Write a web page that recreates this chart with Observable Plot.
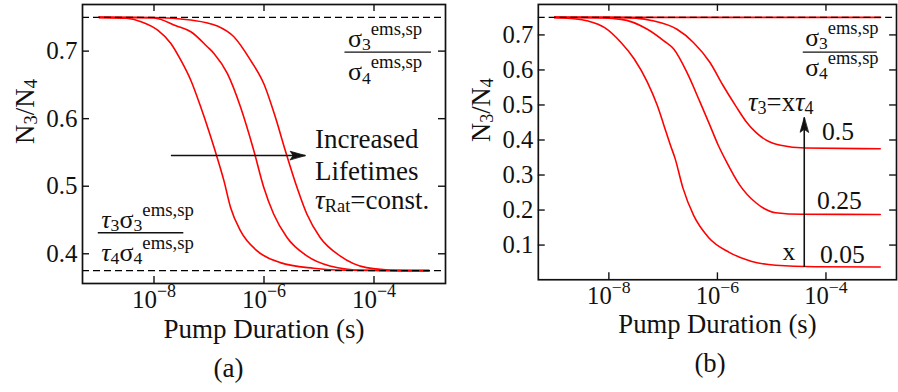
<!DOCTYPE html>
<html><head><meta charset="utf-8">
<script src="https://cdn.jsdelivr.net/npm/d3@7"></script>
<script src="https://cdn.jsdelivr.net/npm/@observablehq/plot@0.6"></script>
<style>
html,body{margin:0;padding:0;background:#fff;}
#wrap{position:relative;width:898px;height:392px;overflow:hidden;background:#fff;}
#pa,#pb{position:absolute;top:0;}
#pa{left:0;} #pb{left:450px;}
</style></head>
<body><div id="wrap"><div id="pa"></div><div id="pb"></div></div>
<script>
// ---------- data ----------
const xTickValues = [1e-8, 1e-6, 1e-4];
const xTickLabels = ["10^{−8}", "10^{−6}", "10^{−4}"];
const yTicksA = [0.4, 0.5, 0.6, 0.7];
const yTicksB = [0.1, 0.2, 0.3, 0.4, 0.5, 0.6, 0.7];
const dashedA = [0.75, 0.375];
const dashedB = [0.75];

// panel (a): three lifetimes, tau ratio constant (x = log10 of pump duration)
const a1LogT = [-9, -8.5, -8.235, -7.933, -7.693, -7.512, -7.331, -7.15, -7.0, -6.879, -6.729, -6.608, -6.427, -6.125, -5.703, -5.101, -4.497, -3.5, -3];
const a1N    = [0.75, 0.7486, 0.7435, 0.731, 0.7114, 0.6866, 0.6569, 0.6172, 0.5811, 0.5499, 0.5083, 0.4686, 0.434, 0.4043, 0.3869, 0.3786, 0.3756, 0.375, 0.375];
const a2LogT = [-9, -8.5, -8, -7.6, -7.331, -7.029, -6.91, -6.667, -6.427, -6.186, -6.005, -5.825, -5.582, -5.221, -4.8, -4.197, -3.5, -3];
const a2N    = [0.75, 0.7498, 0.749, 0.7376, 0.7287, 0.7064, 0.6966, 0.6669, 0.6172, 0.5529, 0.4984, 0.4588, 0.4241, 0.3969, 0.382, 0.3756, 0.375, 0.375];
const a3LogT = [-9, -8, -7.331, -6.848, -6.548, -6.246, -6.005, -5.794, -5.613, -5.401, -5.221, -4.98, -4.618, -4.136, -3.593, -3];
const a3N    = [0.75, 0.7497, 0.746, 0.7371, 0.7212, 0.6866, 0.652, 0.6024, 0.5529, 0.4984, 0.4588, 0.4241, 0.3969, 0.3795, 0.3755, 0.375];

// panel (b): tau3 = x tau4, x = 1, 0.5, 0.25, 0.05
const b0LogT = [-9, -3];
const b0N    = [0.75, 0.75];
const b1LogT = [-9, -8.7, -8.382, -8.078, -7.776, -7.533, -7.291, -7.109, -6.987, -6.867, -6.782, -6.636, -6.436, -6.164, -5.782, -5.382, -4.927, -4.2, -3];
const b1N    = [0.75, 0.747, 0.7396, 0.7209, 0.6785, 0.6312, 0.5653, 0.499, 0.4424, 0.3858, 0.3482, 0.2633, 0.184, 0.1218, 0.0793, 0.0538, 0.0425, 0.0382, 0.0375];
const b2LogT = [-9, -8.5, -7.776, -7.291, -6.987, -6.805, -6.564, -6.322, -6.14, -5.987, -5.836, -5.595, -5.291, -4.927, -4.442, -3];
const b2N    = [0.75, 0.7495, 0.7444, 0.7161, 0.683, 0.6595, 0.5936, 0.5087, 0.4424, 0.3858, 0.3388, 0.2726, 0.2208, 0.1925, 0.1878, 0.1875];
const b3LogT = [-9, -8, -7.5, -7.169, -6.745, -6.442, -6.14, -5.896, -5.655, -5.473, -5.291, -5.109, -4.836, -4.382, -3];
const b3N    = [0.75, 0.75, 0.748, 0.7396, 0.7161, 0.6785, 0.6219, 0.5556, 0.4954, 0.4529, 0.4217, 0.4005, 0.3849, 0.377, 0.375];

// annotations
const annA = [
  {lx: -4.474, y: 0.706, text: "σ_{3}^{ems,sp}", size: 26},
  {lx: -4.474, y: 0.657, text: "σ_{4}^{ems,sp}", size: 26},
  {lx: -5.071, y: 0.5559, text: "Increased", size: 27},
  {lx: -5.071, y: 0.5098, text: "Lifetimes", size: 27},
  {lx: -5.071, y: 0.4667, text: "~{τ}_{Rat}=const.", size: 27},
  {lx: -8.958, y: 0.4385, text: "~{τ}_{3}σ_{3}^{ems,sp}", size: 26},
  {lx: -8.958, y: 0.3894, text: "~{τ}_{4}σ_{4}^{ems,sp}", size: 26}
];
const fracA = [{lx1: -4.528, lx2: -2.955, y: 0.6985}, {lx1: -9.013, lx2: -7.458, y: 0.4311}];
const arrowA = [{lx1: -7.693, y1: 0.5455, lx2: -5.251, y2: 0.5455, rot: 90}];

const annB = [
  {lx: -4.382, y: 0.668, text: "σ_{3}^{ems,sp}", size: 26},
  {lx: -4.382, y: 0.583, text: "σ_{4}^{ems,sp}", size: 26},
  {lx: -5.436, y: 0.484, text: "~{τ}_{3}=x~{τ}_{4}", size: 27},
  {lx: -4.073, y: 0.399, text: "0.5", size: 26},
  {lx: -4.164, y: 0.2038, text: "0.25", size: 26},
  {lx: -4.109, y: 0.0482, text: "0.05", size: 26},
  {lx: -4.8, y: 0.0567, text: "x", size: 26}
];
const fracB = [{lx1: -4.418, lx2: -3.055, y: 0.651}];
const arrowB = [{lx1: -4.4, y1: 0.0375, lx2: -4.4, y2: 0.4642, rot: 0}];

// ---------- helpers ----------
const pts = (lt, n) => lt.map((l, i) => ({x: 10 ** l, y: n[i]}));
const NS = "http://www.w3.org/2000/svg";
function richify(root) {
  root.querySelectorAll("text").forEach(t => {
    const holders = t.querySelector("tspan") ? [...t.querySelectorAll("tspan")] : [t];
    holders.forEach(el => {
      const s = el.textContent;
      if (!/[_^~]\{/.test(s)) return;
      el.textContent = "";
      const re = /([_^~])\{([^}]*)\}|([^_^~]+)/g;
      let m, cur = 0;
      while ((m = re.exec(s))) {
        const ts = document.createElementNS(NS, "tspan");
        let scale = 1, shift = 0, txt;
        if (m[1]) {
          txt = m[2];
          if (m[1] === "_") { scale = 0.68; shift = 0.13; }
          else if (m[1] === "^") { scale = 0.72; shift = -0.46; }
          else ts.setAttribute("font-style", "italic");
        } else txt = m[3];
        if (scale !== 1) ts.setAttribute("font-size", (scale * 100) + "%");
        const delta = shift - cur;
        if (Math.abs(delta) > 1e-9) ts.setAttribute("dy", (delta / scale).toFixed(3) + "em");
        cur = shift;
        ts.textContent = txt;
        el.appendChild(ts);
      }
    });
  });
}
// filled, slender arrowhead for Plot.vector (tip at the anchor point)
const headShape = {
  draw(context, l) {
    const w = 4.2;
    context.moveTo(0, -l);
    context.lineTo(-w, 0);
    context.lineTo(0, -3);
    context.lineTo(w, 0);
    context.closePath();
  }
};

function panel({width, ml, mr, yDomain, yTicks, dashed, series, ann, frac, arrows, tag, tagDx}) {
  const height = 392, mt = 4, mb = 109;
  const W = width - ml - mr, H = height - mt - mb;
  const tl = 7;
  return Plot.plot({
    width, height, marginLeft: ml, marginRight: mr, marginTop: mt, marginBottom: mb,
    style: {fontFamily: "'Liberation Serif', 'DejaVu Serif', serif", fontSize: "25px", color: "#111", background: "white", overflow: "visible"},
    x: {type: "log", domain: [10 ** -9.3, 10 ** -2.7], axis: null},
    y: {domain: yDomain, axis: null},
    marks: [
      ...series.map(s => Plot.line(s, {x: "x", y: "y", stroke: "#ff0000", strokeWidth: 1.6, curve: "monotone-x"})),
      Plot.ruleY(dashed, {stroke: "black", strokeWidth: 1.4, strokeDasharray: "7,4"}),
      Plot.frame({stroke: "#111", strokeWidth: 1.7}),
      Plot.tickX(xTickValues, {x: d => d, insetBottom: H - tl, strokeWidth: 1.4}),
      Plot.tickX(xTickValues, {x: d => d, insetTop: H - tl, strokeWidth: 1.4}),
      Plot.tickY(yTicks, {y: d => d, insetRight: W - tl, strokeWidth: 1.4}),
      Plot.tickY(yTicks, {y: d => d, insetLeft: W - tl, strokeWidth: 1.4}),
      Plot.axisY(yTicks, {anchor: "left", tickSize: 0, tickPadding: 5, tickFormat: d3.format(".1f"), fontSize: 25, label: null}),
      Plot.axisX(xTickValues, {anchor: "bottom", tickSize: 0, tickPadding: 7, tickFormat: d => xTickLabels[xTickValues.indexOf(d)], fontSize: 25, label: null}),
      Plot.text(["Pump Duration (s)"], {frameAnchor: "bottom", dy: 54, lineAnchor: "bottom", fontSize: 27}),
      Plot.text(["N_{3}/N_{4}"], {frameAnchor: "left", dx: -49, rotate: -90, lineAnchor: "bottom", fontSize: 27}),
      Plot.text([tag], {frameAnchor: "bottom", dx: tagDx, dy: 93, lineAnchor: "bottom", fontSize: 27}),
      Plot.ruleY(frac, {y: "y", x1: d => 10 ** d.lx1, x2: d => 10 ** d.lx2, stroke: "#111", strokeWidth: 1.3}),
      Plot.link(arrows, {x1: d => 10 ** d.lx1, y1: "y1", x2: d => 10 ** d.lx2, y2: "y2", stroke: "#111", strokeWidth: 1.6}),
      Plot.vector(arrows, {x: d => 10 ** d.lx2, y: "y2", rotate: d => d.rot, length: 15, anchor: "end", shape: headShape, fill: "#111", stroke: "#111", strokeWidth: 0.8}),
      Plot.text(ann, {x: d => 10 ** d.lx, y: "y", text: "text", fontSize: d => d.size, textAnchor: "start", lineAnchor: "bottom", fill: "#111"})
    ]
  });
}

const svgA = panel({
  width: 450, ml: 82, mr: 5, yDomain: [0.356, 0.769], yTicks: yTicksA, dashed: dashedA,
  series: [pts(a1LogT, a1N), pts(a2LogT, a2N), pts(a3LogT, a3N)],
  ann: annA, frac: fracA, arrows: arrowA, tag: "(a)", tagDx: -35.5
});
const svgB = panel({
  width: 454, ml: 89, mr: 2, yDomain: [0.001, 0.787], yTicks: yTicksB, dashed: dashedB,
  series: [pts(b0LogT, b0N), pts(b1LogT, b1N), pts(b2LogT, b2N), pts(b3LogT, b3N)],
  ann: annB, frac: fracB, arrows: arrowB, tag: "(b)", tagDx: -7.5
});
document.getElementById("pa").appendChild(svgA);
document.getElementById("pb").appendChild(svgB);
richify(svgA); richify(svgB);
</script>
</body></html>
